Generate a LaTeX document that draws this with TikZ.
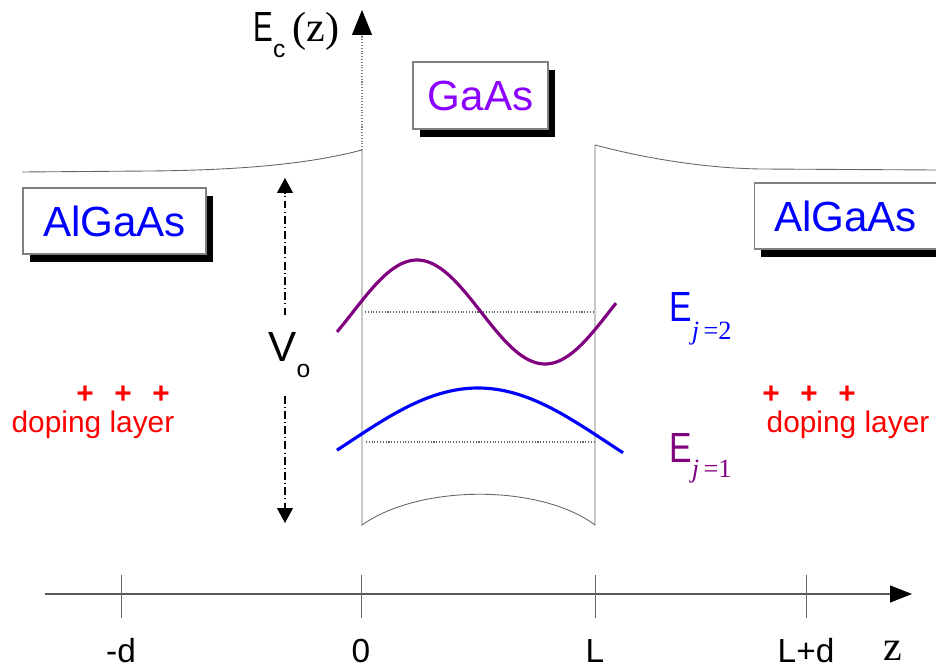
\documentclass[tikz,border=0pt]{standalone}
\usepackage{fontspec}
\setmainfont{Liberation Sans}
\newfontfamily\serifz{Liberation Serif}
\usetikzlibrary{arrows.meta,shadows}

\definecolor{wavepurple}{RGB}{128,0,128}
\definecolor{gaasviolet}{RGB}{140,0,255}

\begin{document}
\begin{tikzpicture}[x=0.02cm,y=-0.02cm,
  welledge/.style={draw=black!60,line width=0.5pt},
  levelline/.style={draw=black!60,densely dotted,line width=0.6pt},
  layerbox/.style={draw=black!50,fill=white,line width=0.6pt,inner sep=0pt,
    minimum width=3.66cm,minimum height=1.32cm,text=blue,font=\fontsize{24}{28}\selectfont,
    drop shadow={shadow xshift=0.14cm,shadow yshift=-0.16cm,fill=black,opacity=1}},
  dopetext/.style={text=red,font=\fontsize{17}{20}\selectfont,inner sep=0pt},
  dopeplus/.style={text=red,font=\bfseries\fontsize{17}{20}\selectfont,inner sep=0pt},
  ticklabel/.style={font=\fontsize{19}{22}\selectfont,anchor=base,inner sep=0pt},
  voltarrow/.style={line width=0.6pt,dash pattern=on 4.5pt off 1.8pt on 0.6pt off 1.8pt,
    -{Triangle[length=0.3cm,width=0.32cm]}},
  ]
\useasboundingbox (0,0) rectangle (936,668);

\coordinate (WTL) at (362,150);
\coordinate (WBL) at (362,525);
\coordinate (WBR) at (595,525);
\coordinate (WTR) at (595,145);
\coordinate (Etop) at (362,10);
\coordinate (zs) at (45,594);
\coordinate (ze) at (912,594);
\coordinate (Vtop) at (285,178);
\coordinate (Vbot) at (285,523);

% band edge
\draw[welledge] (22,172) -- (150,171) .. controls (260,170) and (320,161) .. (WTL);
\draw[welledge] (WTL) -- (WBL) .. controls (420,484) and (540,484) .. (WBR) -- (WTR);
\draw[welledge] (WTR) .. controls (640,157) and (700,168) .. (760,169) -- (936,170);

% energy axis
\draw[draw=black!50,densely dotted,line width=0.6pt,-{Triangle[black,length=0.5cm,width=0.4cm]}] (WTL) -- (Etop);
\node[anchor=base west,inner sep=0pt,font=\fontsize{24}{28}\selectfont] (Ec) at (253,42)
  {\scalebox{0.7}[1]{E}\raisebox{-9pt}{\fontsize{14}{16}\selectfont c}\,{\serifz(z)}};

% boxes
\node[layerbox] (AlL) at (114.5,221) {AlGaAs};
\node[layerbox] (AlR) at (845.5,216) {AlGaAs};
\node[layerbox,minimum width=2.7cm,minimum height=1.34cm,text=gaasviolet] (GaAs) at (480.5,95.5) {GaAs};

% barrier height
\node[anchor=base west,inner sep=0pt,outer sep=10pt,font=\fontsize{24}{28}\selectfont] (Vo) at (251,362)
  {V\raisebox{-9pt}{\fontsize{14}{16}\selectfont o}};
\draw[voltarrow] (Vo.north -| Vtop) -- (Vtop);
\draw[voltarrow] (Vo.south -| Vbot) -- (Vbot);

% levels and wave functions
\coordinate (E2a) at (365,312);
\coordinate (E2b) at (594,312);
\coordinate (E1a) at (366,442);
\coordinate (E1b) at (594,442);
\draw[levelline] (E2a) -- (E2b);
\draw[levelline] (E1a) -- (E1b);
\draw[wavepurple,line width=1.8pt] plot[domain=337:616,samples=90,smooth] (\x,{312-52*cos(1.406*(\x-417))});
\draw[blue,line width=1.8pt] plot[domain=337:623,samples=90,smooth] (\x,{442-54*cos(0.70*(\x-478))});

\node[anchor=base west,inner sep=0pt,text=blue,font=\fontsize{24}{28}\selectfont] (E2) at (669,322)
  {\scalebox{0.8}[1]{E}\raisebox{-10pt}{\serifz\fontsize{15}{17}\selectfont\itshape j\upshape\,=2}};
\node[anchor=base west,inner sep=0pt,text=wavepurple,font=\fontsize{24}{28}\selectfont] (E1) at (669,462)
  {\scalebox{0.8}[1]{E}\raisebox{-9pt}{\serifz\fontsize{15}{17}\selectfont\itshape j\upshape\,=1}};

% doping layers
\foreach \x [count=\i] in {85,123,161,771,809,847}
  \node[dopeplus] (plus\i) at (\x,395) {+};
\node[dopetext] (dopeL) at (93,425) {doping layer};
\node[dopetext] (dopeR) at (848,425) {doping layer};

% z axis
\draw[draw=black!65,line width=0.6pt,-{Triangle[black,length=0.44cm,width=0.34cm]}] (zs) -- (ze);
\foreach \x/\t/\n in {121/-d/md,361/0/zero,595/L/L,806/L+d/Ld} {
  \draw[welledge] (\x,575) -- (\x,618);
  \node[ticklabel] (t\n) at (\x,662) {\t};
}
\node[ticklabel,font=\serifz\fontsize{24}{28}\selectfont] (zlab) at (893,660) {z};
\end{tikzpicture}
\end{document}
